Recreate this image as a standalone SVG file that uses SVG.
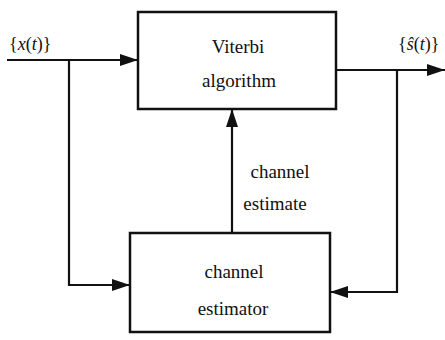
<svg xmlns="http://www.w3.org/2000/svg" width="445" height="340" viewBox="0 0 445 340">
<style>
.box{fill:#fff;stroke:#111;stroke-width:2.5}
.ln{fill:none;stroke:#111;stroke-width:2.2}
.t{font-family:"Liberation Serif","DejaVu Serif","Times New Roman",serif;font-size:19px;fill:#111;text-anchor:middle}
.lab{font-family:"Liberation Serif","DejaVu Serif","Times New Roman",serif;font-size:18px;fill:#111}
.i{font-style:italic}
</style>
<defs>
<marker id="ah" viewBox="0 0 18 12" refX="18" refY="6" markerWidth="18" markerHeight="12" markerUnits="userSpaceOnUse" orient="auto">
<path d="M0,0 L18,6 L0,12 Z" fill="#111"/>
</marker>
</defs>
<rect width="445" height="340" fill="#fff"/>
<g id="connectors">
<path class="ln" d="M7,60 H138" marker-end="url(#ah)"/>
<path class="ln" d="M69,60 V285 H130" marker-end="url(#ah)"/>
<path class="ln" d="M336,70 H445" marker-end="url(#ah)"/>
<path class="ln" d="M397,70 V292 H330" marker-end="url(#ah)"/>
<path class="ln" d="M232,233 V109" marker-end="url(#ah)"/>
</g>
<g id="viterbi">
<rect class="box" x="138" y="12" width="198" height="97"/>
<text class="t" x="238" y="53">Viterbi</text>
<text class="t" x="239" y="87">algorithm</text>
</g>
<g id="estimator">
<rect class="box" x="130" y="233" width="200" height="99"/>
<text class="t" x="234" y="278">channel</text>
<text class="t" x="233" y="315">estimator</text>
</g>
<g id="labels">
<text class="t" x="280" y="178">channel</text>
<text class="t" x="275" y="210">estimate</text>
<text class="lab" x="9" y="50">{<tspan class="i">x</tspan>(<tspan class="i">t</tspan>)}</text>
<text class="lab" x="398" y="50">{<tspan class="i">ŝ</tspan>(<tspan class="i">t</tspan>)}</text>
</g>
</svg>
